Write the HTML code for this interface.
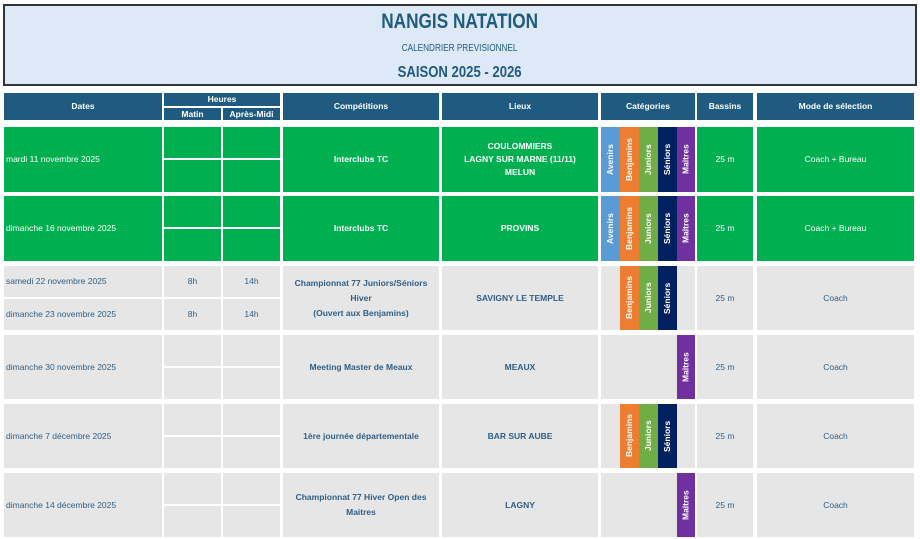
<!DOCTYPE html><html><head><meta charset="utf-8"><style>
body{margin:0;width:920px;height:539px;background:#fff;font-family:"Liberation Sans",sans-serif;position:relative;overflow:hidden}
.c{position:absolute;display:flex;align-items:center;justify-content:center;text-align:center;font-size:8.5px;line-height:13px;box-sizing:border-box}
.h{background:#1f5a80;color:#fff;font-weight:bold}
.g{background:#00b050;color:#fff}
.e{background:#e7e6e6;color:#2e5f86}
.b{font-weight:bold}
.l{justify-content:flex-start;padding-left:2px}
.v{writing-mode:vertical-rl;transform:rotate(180deg);color:#fff;font-size:8.5px;font-weight:bold}
.t span{display:inline-block;transform:scaleX(0.82)}
</style></head><body>
<div style="position:absolute;left:3px;top:4px;width:910px;height:78px;background:#dde9f6;border:2px solid #333"></div>
<div class="c b t" style="left:0;top:8px;width:920px;height:26px;font-size:21px;color:#1f5a80"><span>NANGIS NATATION</span></div>
<div class="c t" style="left:0;top:40px;width:920px;height:16px;font-size:10px;color:#1f5a80"><span>CALENDRIER PREVISIONNEL</span></div>
<div class="c b t" style="left:0;top:61px;width:920px;height:22px;font-size:16px;color:#1f5a80"><span>SAISON 2025 - 2026</span></div>

<div class="c h" style="left:4px;top:93px;width:158px;height:27px">Dates</div>
<div class="c h" style="left:164px;top:93px;width:116px;height:13px">Heures</div>
<div class="c h" style="left:164px;top:108px;width:57px;height:12px">Matin</div>
<div class="c h" style="left:223px;top:108px;width:57px;height:12px">Après-Midi</div>
<div class="c h" style="left:283px;top:93px;width:156px;height:27px">Compétitions</div>
<div class="c h" style="left:442px;top:93px;width:156px;height:27px">Lieux</div>
<div class="c h" style="left:601px;top:93px;width:94px;height:27px">Catégories</div>
<div class="c h" style="left:697px;top:93px;width:56px;height:27px">Bassins</div>
<div class="c h" style="left:757px;top:93px;width:157px;height:27px">Mode de sélection</div>

<div class="c g l" style="left:4px;top:127px;width:158px;height:65px">mardi 11 novembre 2025</div>
<div class="c g" style="left:164px;top:127px;width:57px;height:31px"></div><div class="c g" style="left:223px;top:127px;width:57px;height:31px"></div>
<div class="c g" style="left:164px;top:160px;width:57px;height:32px"></div><div class="c g" style="left:223px;top:160px;width:57px;height:32px"></div>
<div class="c g b" style="left:283px;top:127px;width:156px;height:65px">Interclubs TC</div>
<div class="c g b" style="left:442px;top:127px;width:156px;height:65px">COULOMMIERS<br>LAGNY SUR MARNE (11/11)<br>MELUN</div>
<div class="c v" style="left:601px;top:127px;width:19px;height:65px;background:#5b9bd5">Avenirs</div>
<div class="c v" style="left:620px;top:127px;width:19px;height:65px;background:#ed7d31">Benjamins</div>
<div class="c v" style="left:639px;top:127px;width:19px;height:65px;background:#70ad47">Juniors</div>
<div class="c v" style="left:658px;top:127px;width:19px;height:65px;background:#002060">Séniors</div>
<div class="c v" style="left:677px;top:127px;width:18px;height:65px;background:#7030a0">Maîtres</div>
<div class="c g" style="left:697px;top:127px;width:56px;height:65px">25 m</div>
<div class="c g" style="left:757px;top:127px;width:157px;height:65px">Coach + Bureau</div>

<div class="c g l" style="left:4px;top:196px;width:158px;height:65px">dimanche 16 novembre 2025</div>
<div class="c g" style="left:164px;top:196px;width:57px;height:31px"></div><div class="c g" style="left:223px;top:196px;width:57px;height:31px"></div>
<div class="c g" style="left:164px;top:229px;width:57px;height:32px"></div><div class="c g" style="left:223px;top:229px;width:57px;height:32px"></div>
<div class="c g b" style="left:283px;top:196px;width:156px;height:65px">Interclubs TC</div>
<div class="c g b" style="left:442px;top:196px;width:156px;height:65px">PROVINS</div>
<div class="c v" style="left:601px;top:196px;width:19px;height:65px;background:#5b9bd5">Avenirs</div>
<div class="c v" style="left:620px;top:196px;width:19px;height:65px;background:#ed7d31">Benjamins</div>
<div class="c v" style="left:639px;top:196px;width:19px;height:65px;background:#70ad47">Juniors</div>
<div class="c v" style="left:658px;top:196px;width:19px;height:65px;background:#002060">Séniors</div>
<div class="c v" style="left:677px;top:196px;width:18px;height:65px;background:#7030a0">Maîtres</div>
<div class="c g" style="left:697px;top:196px;width:56px;height:65px">25 m</div>
<div class="c g" style="left:757px;top:196px;width:157px;height:65px">Coach + Bureau</div>

<div class="c e l" style="left:4px;top:266px;width:158px;height:31px">samedi 22 novembre 2025</div>
<div class="c e l" style="left:4px;top:299px;width:158px;height:31px">dimanche 23 novembre 2025</div>
<div class="c e" style="left:164px;top:266px;width:57px;height:31px">8h</div><div class="c e" style="left:223px;top:266px;width:57px;height:31px">14h</div>
<div class="c e" style="left:164px;top:299px;width:57px;height:31px">8h</div><div class="c e" style="left:223px;top:299px;width:57px;height:31px">14h</div>
<div class="c e b" style="left:283px;top:266px;width:156px;height:64px;line-height:15px">Championnat 77 Juniors/Séniors<br>Hiver<br>(Ouvert aux Benjamins)</div>
<div class="c e b" style="left:442px;top:266px;width:156px;height:64px">SAVIGNY LE TEMPLE</div>
<div class="c e" style="left:601px;top:266px;width:94px;height:64px"></div>
<div class="c v" style="left:620px;top:266px;width:19px;height:64px;background:#ed7d31">Benjamins</div>
<div class="c v" style="left:639px;top:266px;width:19px;height:64px;background:#70ad47">Juniors</div>
<div class="c v" style="left:658px;top:266px;width:19px;height:64px;background:#002060">Séniors</div>
<div class="c e" style="left:697px;top:266px;width:56px;height:64px">25 m</div>
<div class="c e" style="left:757px;top:266px;width:157px;height:64px">Coach</div>

<div class="c e l" style="left:4px;top:335px;width:158px;height:64px">dimanche 30 novembre 2025</div>
<div class="c e" style="left:164px;top:335px;width:57px;height:31px"></div><div class="c e" style="left:223px;top:335px;width:57px;height:31px"></div>
<div class="c e" style="left:164px;top:368px;width:57px;height:31px"></div><div class="c e" style="left:223px;top:368px;width:57px;height:31px"></div>
<div class="c e b" style="left:283px;top:335px;width:156px;height:64px">Meeting Master de Meaux</div>
<div class="c e b" style="left:442px;top:335px;width:156px;height:64px">MEAUX</div>
<div class="c e" style="left:601px;top:335px;width:94px;height:64px"></div>
<div class="c v" style="left:677px;top:335px;width:18px;height:64px;background:#7030a0">Maîtres</div>
<div class="c e" style="left:697px;top:335px;width:56px;height:64px">25 m</div>
<div class="c e" style="left:757px;top:335px;width:157px;height:64px">Coach</div>

<div class="c e l" style="left:4px;top:404px;width:158px;height:64px">dimanche 7 décembre 2025</div>
<div class="c e" style="left:164px;top:404px;width:57px;height:31px"></div><div class="c e" style="left:223px;top:404px;width:57px;height:31px"></div>
<div class="c e" style="left:164px;top:437px;width:57px;height:31px"></div><div class="c e" style="left:223px;top:437px;width:57px;height:31px"></div>
<div class="c e b" style="left:283px;top:404px;width:156px;height:64px">1ère journée départementale</div>
<div class="c e b" style="left:442px;top:404px;width:156px;height:64px">BAR SUR AUBE</div>
<div class="c e" style="left:601px;top:404px;width:94px;height:64px"></div>
<div class="c v" style="left:620px;top:404px;width:19px;height:64px;background:#ed7d31">Benjamins</div>
<div class="c v" style="left:639px;top:404px;width:19px;height:64px;background:#70ad47">Juniors</div>
<div class="c v" style="left:658px;top:404px;width:19px;height:64px;background:#002060">Séniors</div>
<div class="c e" style="left:697px;top:404px;width:56px;height:64px">25 m</div>
<div class="c e" style="left:757px;top:404px;width:157px;height:64px">Coach</div>

<div class="c e l" style="left:4px;top:473px;width:158px;height:64px">dimanche 14 décembre 2025</div>
<div class="c e" style="left:164px;top:473px;width:57px;height:31px"></div><div class="c e" style="left:223px;top:473px;width:57px;height:31px"></div>
<div class="c e" style="left:164px;top:506px;width:57px;height:31px"></div><div class="c e" style="left:223px;top:506px;width:57px;height:31px"></div>
<div class="c e b" style="left:283px;top:473px;width:156px;height:64px;line-height:15px">Championnat 77 Hiver Open des<br>Maitres</div>
<div class="c e b" style="left:442px;top:473px;width:156px;height:64px">LAGNY</div>
<div class="c e" style="left:601px;top:473px;width:94px;height:64px"></div>
<div class="c v" style="left:677px;top:473px;width:18px;height:64px;background:#7030a0">Maîtres</div>
<div class="c e" style="left:697px;top:473px;width:56px;height:64px">25 m</div>
<div class="c e" style="left:757px;top:473px;width:157px;height:64px">Coach</div>
</body></html>
